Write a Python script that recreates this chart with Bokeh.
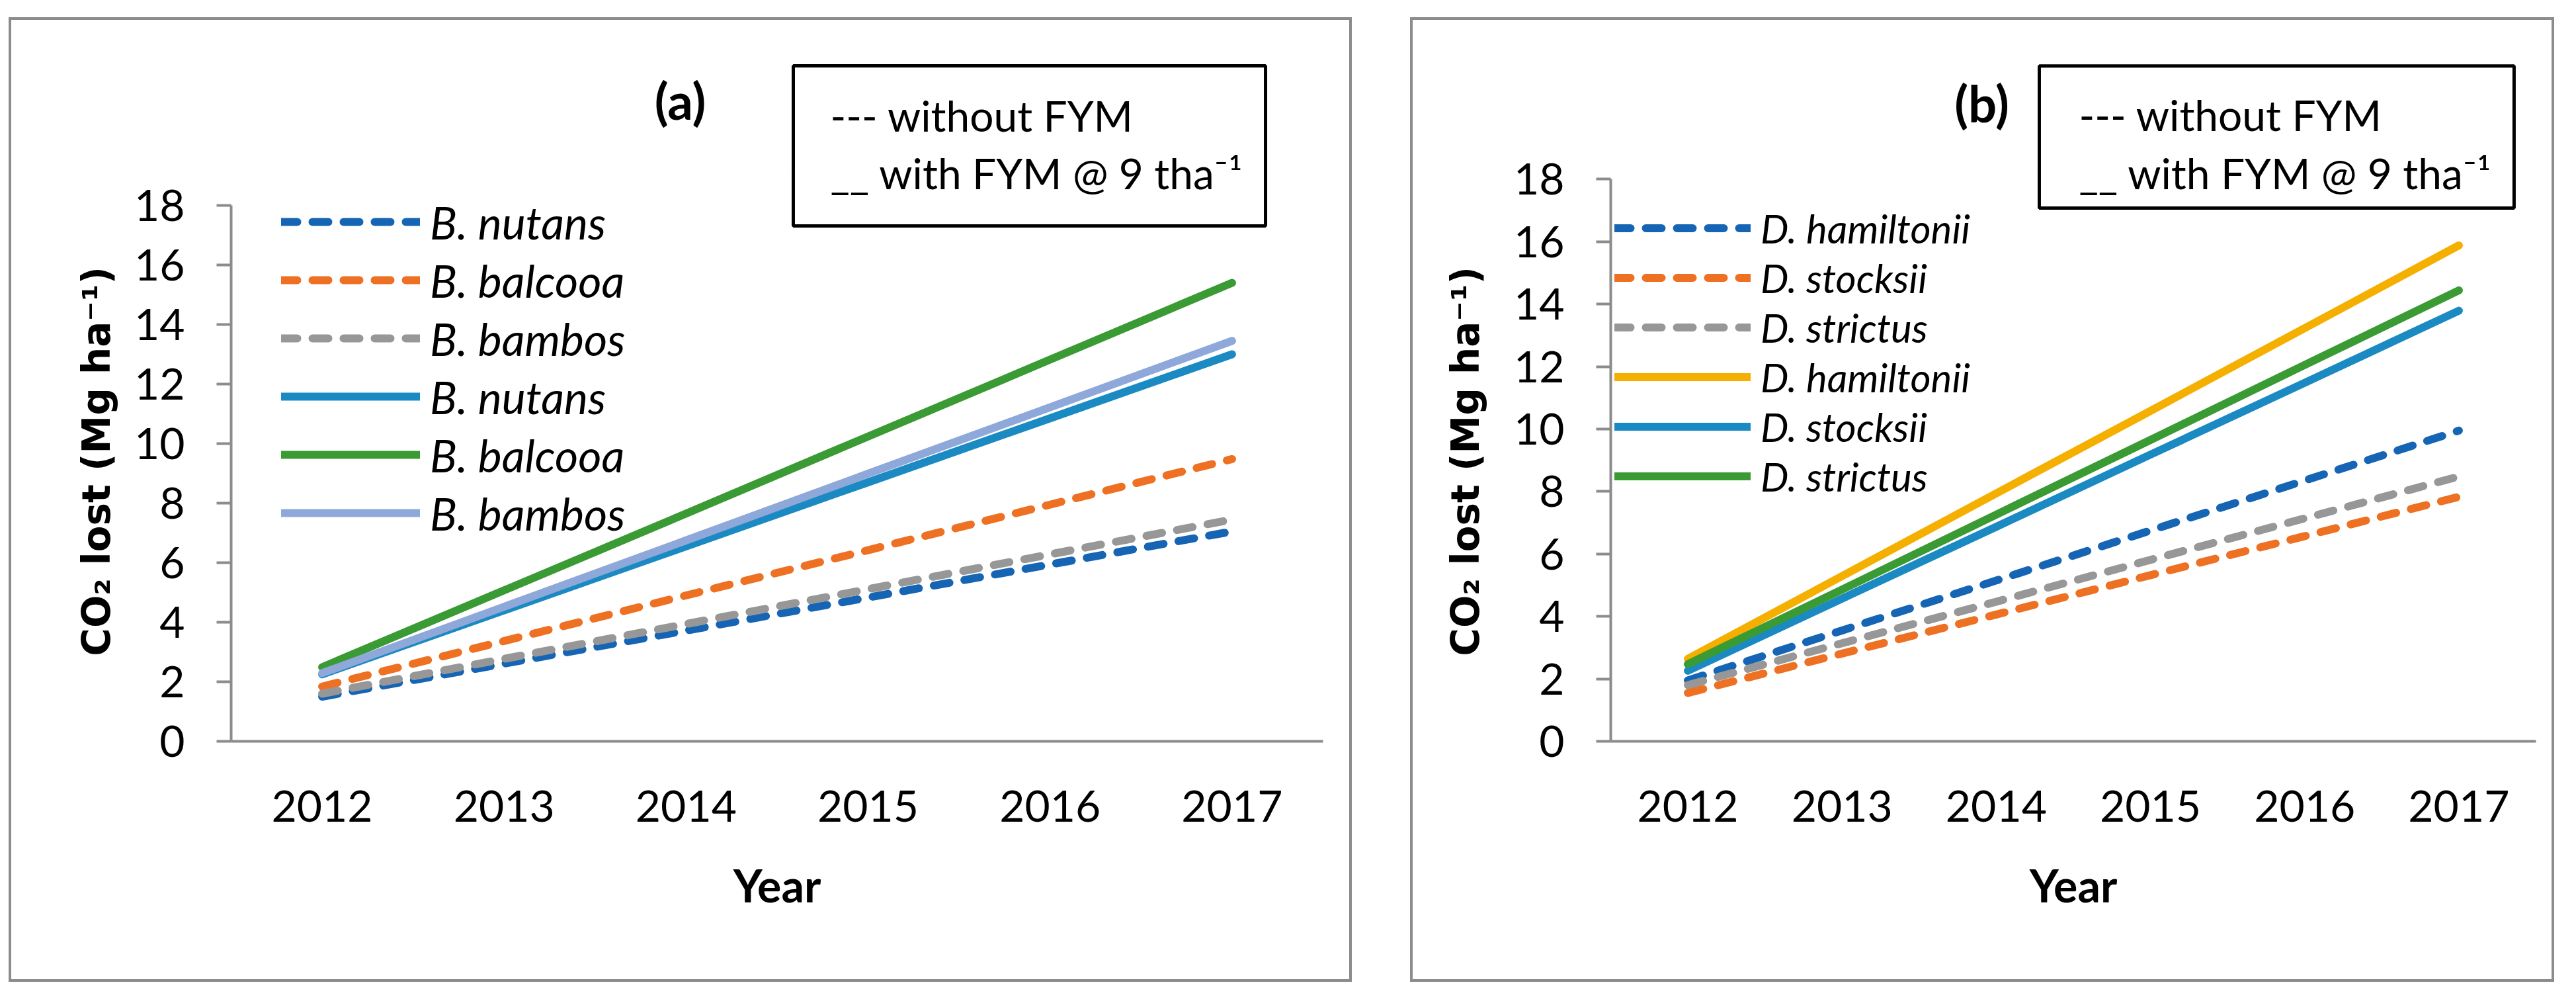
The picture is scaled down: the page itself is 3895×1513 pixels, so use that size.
from bokeh.plotting import figure
from bokeh.models import (FactorRange, Range1d, FixedTicker, Legend, LegendItem, Label,
                          BoxAnnotation, Spacer)
from bokeh.layouts import row, column
from bokeh.embed import file_html
from bokeh.resources import INLINE

years = ["2012", "2013", "2014", "2015", "2016", "2017"]
y_ticks = [0, 2, 4, 6, 8, 10, 12, 14, 16, 18]

# ---- panel (a) ----
a_labels = ["B. nutans", "B. balcooa", "B. bambos", "B. nutans", "B. balcooa", "B. bambos"]
a_nutans_wo = [1.50, 2.61, 3.72, 4.83, 5.94, 7.05]
a_balcooa_wo = [1.84, 3.37, 4.90, 6.42, 7.95, 9.48]
a_bambos_wo = [1.60, 2.77, 3.94, 5.11, 6.28, 7.45]
a_nutans_w = [2.25, 4.40, 6.55, 8.70, 10.85, 13.00]
a_balcooa_w = [2.49, 5.07, 7.65, 10.24, 12.82, 15.40]
a_bambos_w = [2.29, 4.52, 6.75, 8.99, 11.22, 13.45]
a_colors = ["#1565B4", "#EE7022", "#979797", "#1B8AC2", "#3A9A33", "#8EA8DA"]

# ---- panel (b) ----
b_labels = ["D. hamiltonii", "D. stocksii", "D. strictus", "D. hamiltonii", "D. stocksii", "D. strictus"]
b_hamiltonii_wo = [1.95, 3.55, 5.15, 6.75, 8.35, 9.95]
b_stocksii_wo = [1.55, 2.81, 4.06, 5.32, 6.57, 7.83]
b_strictus_wo = [1.80, 3.14, 4.47, 5.81, 7.14, 8.48]
b_hamiltonii_w = [2.64, 5.29, 7.94, 10.58, 13.23, 15.88]
b_stocksii_w = [2.26, 4.57, 6.87, 9.18, 11.48, 13.79]
b_strictus_w = [2.47, 4.86, 7.26, 9.65, 12.05, 14.44]
b_colors = ["#1565B4", "#EE7022", "#979797", "#F5AF00", "#1B8AC2", "#3A9A33"]

dashed = [True, True, True, False, False, False]

note1 = "--- without FYM"
note2 = "__ with FYM @ 9 tha\u207b\u00b9"
ylabel = "CO\u2082 lost (Mg ha\u207b\u00b9)"

AXIS_GRAY = "#8C8C8C"


def make_panel(tag, series, labels, colors, width, borders, y_end, leg_loc, leg_font, leg_row,
               glyph_w, ylab_standoff, ylab_pad, tag_xy, box, note_x, note_y):
    left, right, top, bottom = borders
    p = figure(x_range=FactorRange(factors=years), y_range=Range1d(0, y_end),
               width=width, height=1458, output_backend="svg", toolbar_location=None,
               min_border_left=left, min_border_right=right,
               min_border_top=top, min_border_bottom=bottom,
               styles={"outline": "4px solid " + AXIS_GRAY, "outline-offset": "-4px"})
    p.outline_line_color = None
    p.grid.visible = False
    p.background_fill_color = None
    p.border_fill_color = None

    ya = p.yaxis[0]
    ya.bounds = (0, 18)
    ya.ticker = FixedTicker(ticks=y_ticks)
    ya.minor_tick_line_color = None
    ya.major_tick_in = 0
    ya.major_tick_out = 22
    ya.major_tick_line_width = 4
    ya.major_tick_line_color = AXIS_GRAY
    ya.axis_line_width = 4
    ya.axis_line_color = AXIS_GRAY
    ya.major_label_text_font = "Lato"
    ya.major_label_text_font_size = "66px"
    ya.major_label_text_color = "black"
    ya.major_label_standoff = 48
    ya.axis_label = ylabel + "\u00a0" * ylab_pad
    ya.axis_label_text_font = "DejaVu Sans"
    ya.axis_label_text_font_style = "bold"
    ya.axis_label_text_font_size = "58px"
    ya.axis_label_text_color = "black"
    ya.axis_label_standoff = ylab_standoff

    xa = p.xaxis[0]
    xa.major_tick_line_color = None
    xa.minor_tick_line_color = None
    xa.major_tick_out = 0
    xa.major_tick_in = 0
    xa.axis_line_width = 4
    xa.axis_line_color = AXIS_GRAY
    xa.major_label_text_font = "Lato"
    xa.major_label_text_font_size = "66px"
    xa.major_label_text_color = "black"
    xa.major_label_standoff = 74
    xa.axis_label = "Year"
    xa.axis_label_text_font = "Lato"
    xa.axis_label_text_font_style = "bold"
    xa.axis_label_text_font_size = "68px"
    xa.axis_label_text_color = "black"
    xa.axis_label_standoff = 52

    items = []
    for vals, lab, col, d in zip(series, labels, colors, dashed):
        r = p.line(x=years, y=vals, line_color=col, line_width=12, line_cap="round",
                   line_join="round", line_dash=("24 23" if d else "solid"))
        items.append(LegendItem(label=lab, renderers=[r]))

    leg = Legend(items=items, location=leg_loc, orientation="vertical",
                 glyph_width=glyph_w, glyph_height=leg_row, label_height=leg_row,
                 spacing=0, padding=0, margin=0, label_standoff=15,
                 label_text_font="Lato", label_text_font_style="italic",
                 label_text_font_size=leg_font, label_text_color="black",
                 border_line_color=None, background_fill_alpha=0)
    p.add_layout(leg)

    # note box
    bl, br, bt, bb = box
    p.add_layout(BoxAnnotation(left=bl, right=br, top=bt, bottom=bb,
                               fill_alpha=0, line_color="black", line_alpha=1.0,
                               line_width=5))
    p.add_layout(Label(x=note_x, y=note_y[0], text=note1, text_font="Lato",
                       text_font_size="64px", text_baseline="middle", text_align="left",
                       text_color="black"))
    p.add_layout(Label(x=note_x, y=note_y[1], text=note2, text_font="Lato",
                       text_font_size="64px", text_baseline="middle", text_align="left",
                       text_color="black"))
    p.add_layout(Label(x=tag_xy[0], y=tag_xy[1], text=tag, text_font="Lato",
                       text_font_style="bold", text_font_size="76px",
                       text_baseline="middle", text_align="center", text_color="black"))
    return p


pa = make_panel("(a)",
                [a_nutans_wo, a_balcooa_wo, a_bambos_wo, a_nutans_w, a_balcooa_w, a_bambos_w],
                a_labels, a_colors, 2031, (336, 44, 66, 364), 22.844,
                (76, 301), "68px", 88, 210, 20, 9,
                (2.468, 21.533), (3.089, 5.684, 22.689, 17.311), 3.2925, (21.022, 19.089))

pb = make_panel("(b)",
                [b_hamiltonii_wo, b_stocksii_wo, b_strictus_wo, b_hamiltonii_w, b_stocksii_w, b_strictus_w],
                b_labels, b_colors, 1730, (303, 28, 56, 364), 21.778,
                (6, 363), "60px", 75, 206, 36, 9,
                (2.406, 20.437), (2.779, 5.858, 21.622, 17.077), 3.036, (20.067, 18.19))

layout = column(Spacer(height=26),
                row(Spacer(width=13), pa, Spacer(width=88), pb))
open("out.html", "w").write(file_html(layout, INLINE))
